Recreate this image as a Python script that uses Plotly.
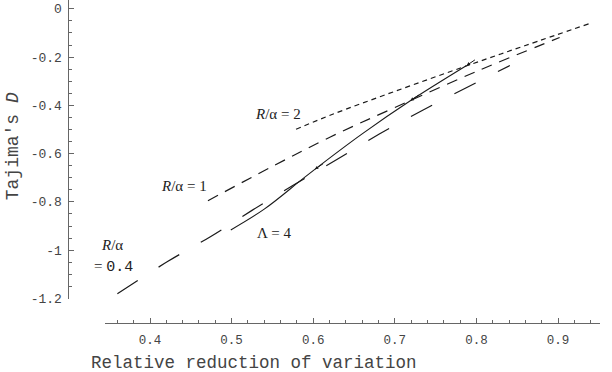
import plotly.graph_objects as go

# ---------------- data ----------------
r2_x = [0.579, 0.623, 0.700, 0.790, 0.860, 0.938]
r2_y = [-0.499, -0.438, -0.342, -0.234, -0.152, -0.062]

r1_x = [0.471, 0.550, 0.621, 0.700, 0.804, 0.902]
r1_y = [-0.795, -0.653, -0.531, -0.409, -0.254, -0.119]

r04_x = [0.360, 0.422, 0.474, 0.525, 0.576, 0.629, 0.681, 0.733, 0.787, 0.841]
r04_y = [-1.180, -1.046, -0.944, -0.835, -0.730, -0.624, -0.519, -0.422, -0.328, -0.235]

lam_x = [0.499, 0.540, 0.584, 0.602, 0.660, 0.719, 0.788]
lam_y = [-0.916, -0.830, -0.713, -0.665, -0.518, -0.381, -0.235]

x_tickvals = [0.4, 0.5, 0.6, 0.7, 0.8, 0.9]
x_ticktext = ["0.4", "0.5", "0.6", "0.7", "0.8", "0.9"]
y_tickvals = [-1.2, -1.0, -0.8, -0.6, -0.4, -0.2, 0.0]
y_ticktext = ["-1.2", "-1", "-0.8", "-0.6", "-0.4", "-0.2", "0"]

# ---------------- geometry calibration ----------------
W, H = 612, 372
X_REF, X_REF_PX, X_SCALE = 0.4, 150.0, 816.0   # px per unit
Y_REF_PX, Y_SCALE = 9.0, 246.7


def xval(px):
    return X_REF + (px - X_REF_PX) / X_SCALE


def yval(py):
    return -(py - Y_REF_PX) / Y_SCALE


XAX_L, XAX_R, XAX_Y = 105.0, 600.0, 330.0
YAX_X, YAX_T, YAX_B = 67.5, 0.0, 306.0

MONO = "Liberation Mono, Courier New, monospace"
SERIF = "Liberation Serif, Times New Roman, serif"
LINE = "#1a1a1a"
AXC = "#666666"
TXT = "#444444"

fig = go.Figure()

fig.add_trace(go.Scatter(x=r2_x, y=r2_y, mode="lines", line_shape="spline",
                         line=dict(color=LINE, width=1.2, dash="5px,4px"),
                         showlegend=False, hoverinfo="skip"))
fig.add_trace(go.Scatter(x=r1_x, y=r1_y, mode="lines", line_shape="spline",
                         line=dict(color=LINE, width=1.2, dash="11px,8px"),
                         showlegend=False, hoverinfo="skip"))
fig.add_trace(go.Scatter(x=r04_x, y=r04_y, mode="lines", line_shape="spline",
                         line=dict(color=LINE, width=1.2, dash="24px,25px"),
                         showlegend=False, hoverinfo="skip"))
fig.add_trace(go.Scatter(x=lam_x, y=lam_y, mode="lines", line_shape="spline",
                         line=dict(color=LINE, width=1.1),
                         showlegend=False, hoverinfo="skip"))

# invisible full-canvas axes for labels
fig.add_trace(go.Scatter(x=[xval(0), xval(W)], y=[yval(H), yval(0)], mode="markers",
                         marker=dict(opacity=0), xaxis="x2", yaxis="y2",
                         showlegend=False, hoverinfo="skip"))

ann = []


def label(px, py, text, size=15, font=SERIF):
    ann.append(dict(x=xval(px), y=yval(py), xref="x2", yref="y2", text=text,
                    showarrow=False, font=dict(family=font, size=size, color="#222222"),
                    xanchor="center", yanchor="middle"))


label(277.5, 117, "<i>R</i>/α = 2")
label(184, 190, "<i>R</i>/α = 1")
label(111.5, 250, "<i>R</i>/α")
label(113, 273, "= <span style='font-family:Liberation Mono'>0.4</span>")
label(274, 238.5, "Λ = 4")

# small arrowheads along the Λ curve
for i in (3, 5, 6):
    ann.append(dict(x=lam_x[i], y=lam_y[i], xref="x2", yref="y2",
                    ax=lam_x[i] + 0.012, ay=lam_y[i] + 0.012 * 2.3,
                    axref="x2", ayref="y2", text="", showarrow=True,
                    arrowhead=2, arrowsize=0.7, arrowwidth=1, arrowcolor=LINE))

# axis titles
ann.append(dict(x=253.5 / W, y=1 - 371 / H, xref="paper", yref="paper",
                text="Relative reduction of variation", showarrow=False,
                font=dict(family=MONO, size=17.5, color=TXT),
                xanchor="center", yanchor="middle"))
ann.append(dict(x=12.5 / W, y=1 - 150 / H, xref="paper", yref="paper",
                text="Tajima's <i>D</i>", showarrow=False, textangle=-90,
                font=dict(family=MONO, size=18, color=TXT),
                xanchor="center", yanchor="middle"))

fig.update_layout(
    width=W, height=H,
    margin=dict(l=0, r=0, t=0, b=0),
    paper_bgcolor="white", plot_bgcolor="rgba(0,0,0,0)",
    annotations=ann,
    xaxis=dict(domain=[XAX_L / W, XAX_R / W], range=[xval(XAX_L), xval(XAX_R)],
               anchor="free", position=1 - XAX_Y / H,
               showgrid=False, zeroline=False, showline=True, linecolor=AXC, linewidth=1,
               tickmode="array", tickvals=x_tickvals, ticktext=x_ticktext,
               ticks="inside", ticklen=5, tickcolor=AXC, tickwidth=1,
               minor=dict(tickmode="linear", tick0=0, dtick=0.02, ticks="inside",
                          ticklen=3, tickcolor=AXC, showgrid=False),
               tickfont=dict(family=MONO, size=12.5, color=TXT), ticklabelstandoff=5),
    yaxis=dict(domain=[1 - YAX_B / H, 1 - YAX_T / H], range=[yval(YAX_B), yval(YAX_T)],
               anchor="free", position=YAX_X / W,
               showgrid=False, zeroline=False, showline=True, linecolor=AXC, linewidth=1,
               tickmode="array", tickvals=y_tickvals, ticktext=y_ticktext,
               ticks="inside", ticklen=5, tickcolor=AXC, tickwidth=1,
               minor=dict(tickmode="linear", tick0=0, dtick=0.05, ticks="inside",
                          ticklen=3, tickcolor=AXC, showgrid=False),
               tickfont=dict(family=MONO, size=13, color=TXT), ticklabelstandoff=3),
    xaxis2=dict(domain=[0, 1], range=[xval(0), xval(W)], anchor="y2", visible=False),
    yaxis2=dict(domain=[0, 1], range=[yval(H), yval(0)], anchor="x2", visible=False),
)

fig.write_html("out.html")
